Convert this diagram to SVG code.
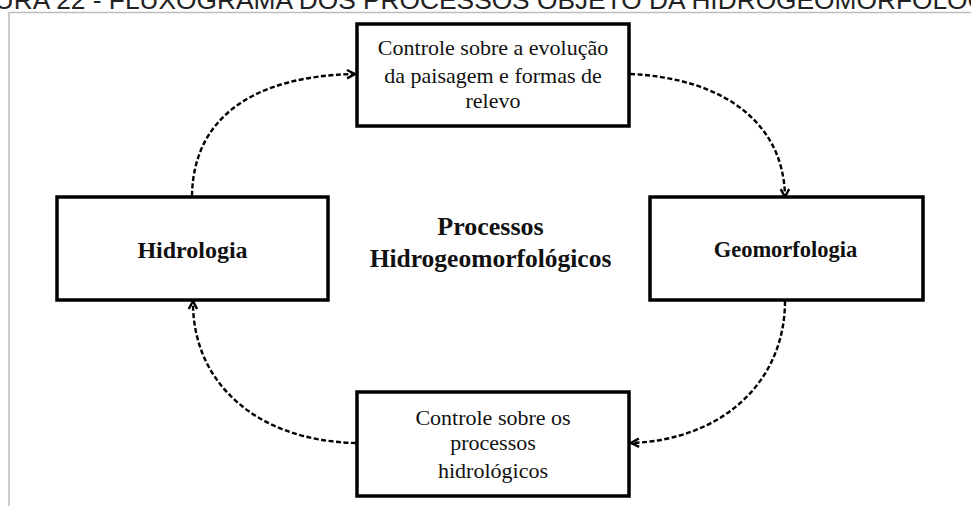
<svg xmlns="http://www.w3.org/2000/svg" width="971" height="506" viewBox="0 0 971 506">
<defs>
<style>
.box{fill:#fff;stroke:#000;stroke-width:3.5}
.t{font-family:"Liberation Serif","Times New Roman",serif;fill:#111;text-anchor:middle}
.b{font-weight:bold}
.con{fill:none;stroke:#000;stroke-width:2.4;stroke-dasharray:5,2.5;marker-end:url(#arr)}
</style>
<marker id="arr" markerUnits="userSpaceOnUse" markerWidth="12" markerHeight="12" refX="9" refY="5" orient="auto" viewBox="0 0 12 10">
<path d="M1,0.8 L9,5 L1,9.2" fill="none" stroke="#000" stroke-width="2.4"/>
</marker>
</defs>
<rect width="971" height="506" fill="#fff"/>
<text x="-49" y="9" font-family="Liberation Sans, Arial, sans-serif" font-size="26.3" fill="#222">FIGURA 22 - FLUXOGRAMA DOS PROCESSOS OBJETO DA HIDROGEOMORFOLOGIA</text>
<path d="M9,506 V12.5 H971" fill="none" stroke="#bdbdbd" stroke-width="1.5"/>
<g id="connectors">
<path class="con" d="M192,196 C193,120 250,76 355,74"/>
<path class="con" d="M630,74 C722,78 784,122 785,197"/>
<path class="con" d="M785,301 C785,382 722,440 631,443"/>
<path class="con" d="M356,443 C256,441 192,382 193,301"/>
</g>
<g id="top">
<rect class="box" x="357" y="24" width="272" height="102"/>
<text class="t" font-size="22" x="493" y="55">Controle sobre a evolução</text>
<text class="t" font-size="22" x="493" y="83">da paisagem e formas de</text>
<text class="t" font-size="22" x="493" y="108">relevo</text>
</g>
<g id="hidrologia">
<rect class="box" x="57" y="197" width="271" height="103"/>
<text class="t b" font-size="24" x="192.5" y="258">Hidrologia</text>
</g>
<g id="geomorfologia">
<rect class="box" x="650" y="197" width="273" height="103"/>
<text class="t b" font-size="22.5" x="785.5" y="257">Geomorfologia</text>
</g>
<g id="bottom">
<rect class="box" x="357" y="392" width="272" height="104"/>
<text class="t" font-size="22" x="493" y="425">Controle sobre os</text>
<text class="t" font-size="22" x="493" y="450">processos</text>
<text class="t" font-size="22" x="493" y="478">hidrológicos</text>
</g>
<g id="center">
<text class="t b" font-size="26" x="490.5" y="235">Processos</text>
<text class="t b" font-size="25.5" x="490.5" y="267">Hidrogeomorfológicos</text>
</g>
</svg>
